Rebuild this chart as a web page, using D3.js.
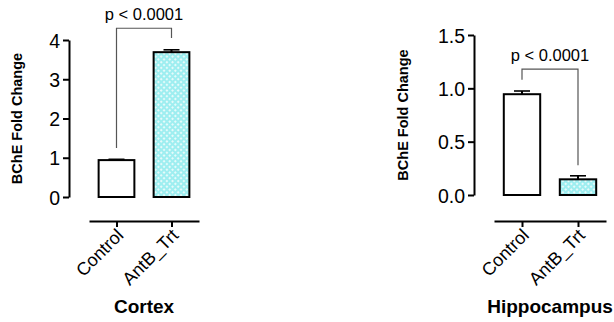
<!DOCTYPE html>
<html lang="en">
<head>
<meta charset="UTF-8">
<title>BChE Fold Change</title>
<script src="https://d3js.org/d3.v7.min.js"></script>
<style>
  body { margin: 0; background: #fff; }
  svg text { font-family: "Liberation Sans", Arial, sans-serif; fill: #000; }
</style>
</head>
<body>
<svg id="chart" width="614" height="322"></svg>
<script>
// Data
const groups = ["Control", "AntB_Trt"];
const cortexMean = [0.94, 3.69];
const cortexErr = [0.02, 0.06];
const hippoMean = [0.945, 0.147];
const hippoErr = [0.03, 0.033];
const cortexTicks = [0, 1, 2, 3, 4];
const hippoTicks = [0, 0.5, 1.0, 1.5];
const pLabel = "p < 0.0001";

const svg = d3.select('#chart');

// hatch pattern for treated bars
const defs = svg.append('defs');
const pat = defs.append('pattern')
    .attr('id', 'quilt')
    .attr('patternUnits', 'userSpaceOnUse')
    .attr('width', 4).attr('height', 4)
    .attr('patternTransform', 'rotate(45)');
pat.append('rect').attr('width', 4).attr('height', 4).attr('fill', '#9eeef0');
pat.append('rect').attr('x', 1).attr('y', 1).attr('width', 2).attr('height', 2).attr('fill', '#e6fafa');

function panel(opt) {
    const g = svg.append('g');
    const y = d3.scaleLinear().domain(opt.domain).range([opt.y0, opt.y1]);
    const x = d3.scalePoint().domain(groups).range(opt.xr).padding(0.5);
    const step = x.step();
    const bw = step * 0.65;

    // y axis
    const ya = g.append('g')
        .attr('transform', `translate(${opt.ax},0)`)
        .call(d3.axisLeft(y).tickValues(opt.ticks).tickFormat(opt.fmt).tickSize(6).tickSizeOuter(0));
    ya.select('.domain').attr('stroke-width', 2);
    ya.selectAll('.tick line').attr('stroke-width', 2);
    ya.selectAll('.tick text').attr('font-size', 19.5).attr('x', -9).attr('dy', '0.36em')
        .style('font-family', '"Liberation Sans", Arial, sans-serif');

    // x axis (offset below)
    const xa = g.append('g')
        .attr('transform', `translate(0,${opt.xaY})`)
        .call(d3.axisBottom(x).tickSize(6).tickSizeOuter(0));
    xa.select('.domain').attr('stroke-width', 2);
    xa.selectAll('.tick line').attr('stroke-width', 2);
    xa.selectAll('.tick text')
        .attr('font-size', 18)
        .attr('text-anchor', 'end')
        .attr('transform', 'translate(3,11) rotate(-45)')
        .attr('x', 0).attr('y', 0).attr('dy', '0.35em')
        .style('font-family', '"Liberation Sans", Arial, sans-serif');

    // bars
    g.selectAll('rect.bar').data(groups).enter().append('rect')
        .attr('class', 'bar')
        .attr('x', d => x(d) - bw / 2)
        .attr('y', (d, i) => y(opt.mean[i]))
        .attr('width', bw)
        .attr('height', (d, i) => y(0) - y(opt.mean[i]))
        .attr('fill', (d, i) => i === 0 ? '#fff' : 'url(#quilt)')
        .attr('stroke', '#000').attr('stroke-width', 2);

    // error bars (upper only)
    groups.forEach((d, i) => {
        const top = y(opt.mean[i] + opt.err[i]);
        g.append('line').attr('x1', x(d)).attr('x2', x(d))
            .attr('y1', y(opt.mean[i])).attr('y2', top)
            .attr('stroke', '#000').attr('stroke-width', 2);
        g.append('line').attr('x1', x(d) - 8).attr('x2', x(d) + 8)
            .attr('y1', top).attr('y2', top)
            .attr('stroke', '#000').attr('stroke-width', 1.6);
    });

    // significance bracket
    const bY = y(opt.bracket[2]);
    g.append('path')
        .attr('d', `M${x(groups[0])},${y(opt.bracket[0])}V${bY}H${x(groups[1])}V${y(opt.bracket[1])}`)
        .attr('fill', 'none').attr('stroke', '#555').attr('stroke-width', 1.2);
    g.append('text')
        .attr('x', (x(groups[0]) + x(groups[1])) / 2)
        .attr('y', bY - 8)
        .attr('text-anchor', 'middle')
        .attr('font-size', 16.5)
        .text(pLabel);

    // axis title
    g.append('text')
        .attr('transform', `translate(${opt.titleX},${(opt.y0 + opt.y1) / 2}) rotate(-90)`)
        .attr('text-anchor', 'middle')
        .attr('dy', '0.35em')
        .attr('font-size', 14.5).attr('font-weight', 'bold')
        .text('BChE Fold Change');

    // panel title
    g.append('text')
        .attr('x', (opt.xr[0] + opt.xr[1]) / 2)
        .attr('y', 313)
        .attr('text-anchor', 'middle')
        .attr('font-size', 19).attr('font-weight', 'bold')
        .text(opt.name);
}

panel({
    name: 'Cortex', domain: [0, 4], ticks: cortexTicks, fmt: d3.format('d'),
    y0: 197, y1: 40, ax: 69, xr: [89, 199], xaY: 221, titleX: 17,
    mean: cortexMean, err: cortexErr, bracket: [1.25, 4.05, 4.3]
});
panel({
    name: 'Hippocampus', domain: [0, 1.5], ticks: hippoTicks, fmt: d3.format('.1f'),
    y0: 195, y1: 35, ax: 474, xr: [494, 606], xaY: 221, titleX: 403,
    mean: hippoMean, err: hippoErr, bracket: [1.08, 0.28, 1.18]
});
</script>
</body>
</html>
